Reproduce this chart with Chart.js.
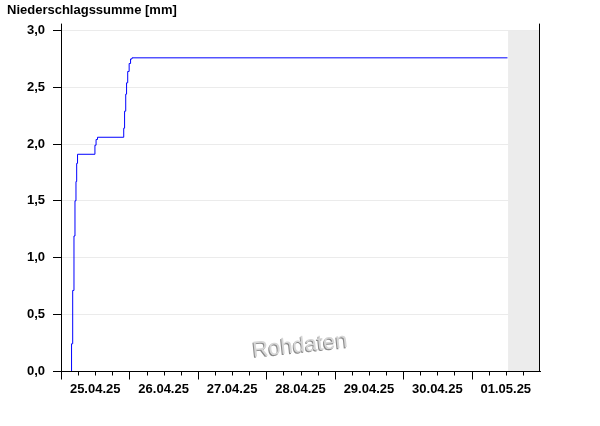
<!DOCTYPE html>
<html><head><meta charset="utf-8">
<script src="https://cdn.jsdelivr.net/npm/chart.js@4.4.1/dist/chart.umd.min.js"></script>
<style>html,body{margin:0;padding:0;background:#fff}#wrap{width:600px;height:426px;position:relative}</style>
</head><body><div id="wrap"><canvas id="c"></canvas></div>
<script>
const titleText = 'Niederschlagssumme [mm]';
const watermarkText = 'Rohdaten';
const dayLabels = ['25.04.25','26.04.25','27.04.25','28.04.25','29.04.25','30.04.25','01.05.25'];
const yTickLabels = ['0,0','0,5','1,0','1,5','2,0','2,5','3,0'];
// hours since 25.04.25 00:00
const hoursSinceStart = [3.7, 3.7, 4.1, 4.55, 4.9, 5.25, 5.5, 5.8, 11.9, 12.3, 12.8, 22.0, 22.3, 22.7, 23.0, 23.4, 23.9, 24.4, 24.9, 156.6];
const precipSum      = [0, 0.24, 0.71, 1.19, 1.50, 1.67, 1.83, 1.91, 1.99, 2.04, 2.06, 2.14, 2.29, 2.44, 2.54, 2.64, 2.71, 2.75, 2.76, 2.76];
const futureFrom = 156.8;
const xMaxHours = 168;

const FONT = "'Liberation Sans', Arial, sans-serif";

const decor = {
  id: 'decor',
  beforeDatasetsDraw(chart) {
    const {ctx, chartArea: a, scales: {x}} = chart;
    ctx.save();
    const gx = x.getPixelForValue(futureFrom);
    ctx.fillStyle = '#ececec';
    ctx.fillRect(gx, a.top, a.right - gx, a.bottom - a.top);
    // watermark
    ctx.translate(300, 346);
    ctx.rotate(-6 * Math.PI / 180);
    ctx.font = "22px " + FONT;
    ctx.textAlign = 'center';
    ctx.textBaseline = 'middle';
    ctx.fillStyle = '#8a8a8a';
    ctx.fillText(watermarkText, -1, 1);
    ctx.fillStyle = '#d6d6d6';
    ctx.fillText(watermarkText, 0, 0);
    ctx.restore();
  },
  afterDraw(chart) {
    const {ctx, chartArea: a, scales: {x}} = chart;
    ctx.save();
    ctx.strokeStyle = '#000';
    ctx.lineWidth = 1;
    ctx.beginPath();
    const L = Math.round(a.left) + 0.5, R = Math.round(a.right) - 0.5, B = Math.round(a.bottom) + 0.5;
    ctx.moveTo(L, a.top - 7); ctx.lineTo(L, a.top);
    ctx.moveTo(R, a.top - 7); ctx.lineTo(R, B);
    x.ticks.forEach(t => {
      if (t.value >= xMaxHours) return;
      const px = Math.round(x.getPixelForValue(t.value)) + 0.5;
      const len = (t.value % 24 === 0) ? 8 : 4;
      ctx.moveTo(px, B); ctx.lineTo(px, B + len);
    });
    ctx.stroke();
    ctx.restore();
  }
};

new Chart(document.getElementById('c'), {
  type: 'line',
  data: {
    datasets: [{
      data: hoursSinceStart.map((h, i) => ({x: h, y: precipSum[i]})),
      borderColor: '#0000ff', borderWidth: 1, pointRadius: 0,
      stepped: 'before', fill: false, tension: 0
    }]
  },
  options: {
    responsive: true, maintainAspectRatio: false, animation: false,
    layout: {padding: {left: 7, right: 60, top: 0, bottom: 0}},
    plugins: {
      legend: {display: false}, tooltip: {enabled: false},
      title: {display: true, text: titleText, align: 'start', color: '#000',
        font: {family: FONT, size: 13, weight: 'bold'}, padding: {top: 3, bottom: 12}}
    },
    scales: {
      x: {
        type: 'linear', min: 0, max: xMaxHours,
        afterFit(s) { s.height = 55; },
        grid: {display: true, drawOnChartArea: false, drawTicks: false},
        border: {display: true, color: '#000', width: 1},
        ticks: {stepSize: 6, autoSkip: false, maxRotation: 0, padding: 11, color: '#000',
          font: {family: FONT, size: 13, weight: 'bold'},
          callback(v) { return v % 24 === 12 ? dayLabels[(v - 12) / 24] : ''; }}
      },
      y: {
        min: 0, max: 3,
        afterFit(s) { s.width = 54; },
        grid: {color: '#ebebeb', tickColor: '#000', tickLength: 8},
        border: {display: true, color: '#000', width: 1},
        ticks: {stepSize: 0.5, padding: 8, color: '#000',
          font: {family: FONT, size: 13, weight: 'bold'},
          callback(v, i) { return yTickLabels[i]; }}
      }
    }
  },
  plugins: [decor]
});
</script></body></html>
